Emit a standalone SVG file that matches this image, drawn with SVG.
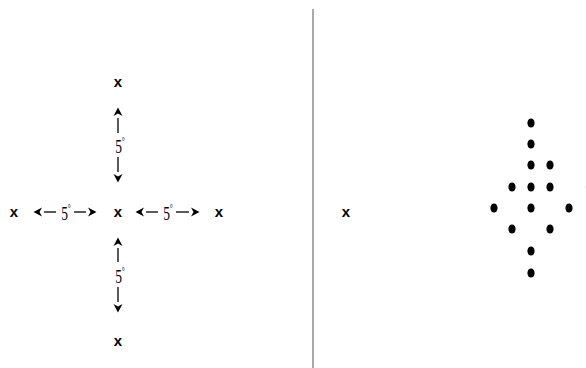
<svg xmlns="http://www.w3.org/2000/svg" width="586" height="368" viewBox="0 0 586 368">
<style>
.x{font-family:"Liberation Sans",Arial,sans-serif;font-weight:bold;font-size:15px;text-anchor:middle;fill:#000}
.n{font-family:"Liberation Serif","Times New Roman",serif;font-size:18px;fill:#000;text-anchor:middle}
.d{font-size:10px}
.ln{stroke:#000;stroke-width:1.3;fill:none}
.dot{fill:#000}
</style>
<defs>
<marker id="ah" viewBox="0 -6 14 12" refX="0" refY="0" markerWidth="14" markerHeight="12" markerUnits="userSpaceOnUse" orient="auto">
<path d="M2,-4.5 L10.5,0 L2,4.5 L4.5,0 Z" fill="#000"/>
</marker>
</defs>
<g id="divider"><line x1="313" y1="9" x2="313" y2="368" stroke="#555" stroke-width="1"/></g>
<g id="left">
<g id="x-center"><text class="x" x="118" y="217">x</text></g>
<g id="x-left"><text class="x" x="14" y="217">x</text></g>
<g id="x-right"><text class="x" x="219" y="217">x</text></g>
<g id="x-top"><text class="x" x="118" y="87">x</text></g>
<g id="x-bottom"><text class="x" x="118" y="346">x</text></g>
<g id="label-left"><text class="n" transform="translate(66,220) scale(0.75,1)">5<tspan class="d" dy="-8">°</tspan></text></g>
<g id="label-right"><text class="n" transform="translate(168,220) scale(0.75,1)">5<tspan class="d" dy="-8">°</tspan></text></g>
<g id="label-top"><text class="n" transform="translate(120,153) scale(0.75,1)">5<tspan class="d" dy="-8">°</tspan></text></g>
<g id="label-bottom"><text class="n" transform="translate(120,283) scale(0.75,1)">5<tspan class="d" dy="-8">°</tspan></text></g>
</g>
<g id="connectors">
<path class="ln" d="M56,212 L44,212" marker-end="url(#ah)"/>
<path class="ln" d="M74,212 L86,212" marker-end="url(#ah)"/>
<path class="ln" d="M158,212 L146,212" marker-end="url(#ah)"/>
<path class="ln" d="M176,212 L189,212" marker-end="url(#ah)"/>
<path class="ln" d="M118,133 L118,118" marker-end="url(#ah)"/>
<path class="ln" d="M118,157 L118,172" marker-end="url(#ah)"/>
<path class="ln" d="M118,262 L118,248" marker-end="url(#ah)"/>
<path class="ln" d="M118,287 L118,302" marker-end="url(#ah)"/>
</g>
<g id="x-far"><text class="x" x="346" y="217">x</text></g>
<g id="dots">
<ellipse class="dot" cx="531" cy="123" rx="3.6" ry="4.6"/>
<ellipse class="dot" cx="531" cy="144" rx="3.6" ry="4.6"/>
<ellipse class="dot" cx="531" cy="165" rx="3.6" ry="4.6"/>
<ellipse class="dot" cx="550" cy="165" rx="3.6" ry="4.6"/>
<ellipse class="dot" cx="512" cy="187" rx="3.6" ry="4.6"/>
<ellipse class="dot" cx="531" cy="187" rx="3.6" ry="4.6"/>
<ellipse class="dot" cx="550" cy="187" rx="3.6" ry="4.6"/>
<ellipse class="dot" cx="589.5" cy="187" rx="3.6" ry="4.6"/>
<ellipse class="dot" cx="494" cy="208" rx="3.6" ry="4.6"/>
<ellipse class="dot" cx="531" cy="208" rx="3.6" ry="4.6"/>
<ellipse class="dot" cx="569" cy="208" rx="3.6" ry="4.6"/>
<ellipse class="dot" cx="512" cy="229" rx="3.6" ry="4.6"/>
<ellipse class="dot" cx="550" cy="229" rx="3.6" ry="4.6"/>
<ellipse class="dot" cx="531" cy="251" rx="3.6" ry="4.6"/>
<ellipse class="dot" cx="531" cy="273" rx="3.6" ry="4.6"/>
</g>
</svg>
